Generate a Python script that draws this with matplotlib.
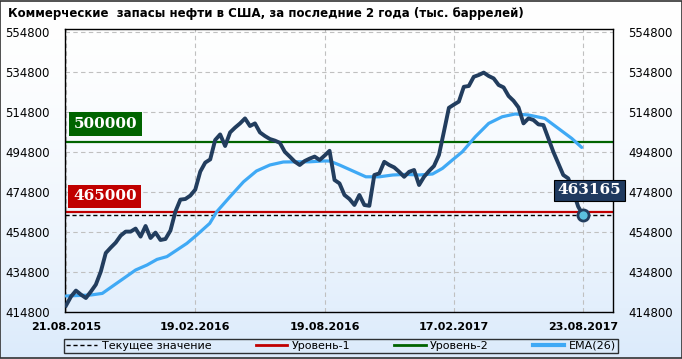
import numpy as np
import matplotlib
matplotlib.use('Agg')
import matplotlib.pyplot as plt
from matplotlib.patches import Rectangle

# weekly commercial crude stocks, thousand barrels
stocks = [418000, 422500, 425500, 423500, 421800, 425000, 428500, 435000, 444300, 447000,
          449500, 453000, 455000, 455000, 456500, 452500, 457800, 451800, 454500, 450800,
          451300, 455500, 465000, 471000, 471300, 473000, 476000, 485000, 489500, 491100,
          500800, 503600, 497800, 504600, 507000, 509100, 511600, 507800, 509100, 504600,
          502800, 501300, 500500, 499400, 494900, 492500, 490000, 488300, 490300, 491500,
          492500, 490800, 493000, 495400, 480800, 479100, 473300, 471300, 468300, 473300,
          468300, 467900, 483300, 484100, 489900, 488300, 487100, 484900, 482400, 484900,
          485800, 478300, 482400, 485300, 487800, 493300, 505000, 516900, 518500, 520000,
          527400, 527800, 532400, 533300, 534500, 532800, 531600, 528300, 527100, 522800,
          520400, 517100, 509100, 511600, 510800, 508600, 508300, 501600, 494900, 489100,
          483300, 481600, 475000, 467500, 463165]

ema_x = [0, 5, 7.3, 9.7, 11.6, 14, 16.3, 18.3, 20.3, 22.3, 24.3, 26.3, 28.9, 30.3, 33,
         35.7, 38.3, 41, 43.7, 46.3, 49, 51.7, 53, 55, 57.7, 60.3, 63, 65.7, 68.3, 71,
         73.7, 75.7, 77.7, 79.7, 82.3, 85, 87.7, 90.3, 93, 96.3, 99, 101.7, 103.7]
ema_y = [422800, 423300, 424100, 428300, 431600, 435800, 438300, 441100, 442500, 445800,
         449100, 453300, 459100, 464900, 472500, 479900, 485300, 488300, 489800, 489900,
         489900, 490300, 490300, 488300, 485300, 482400, 482400, 483300, 483600, 483300,
         483800, 486600, 490800, 494900, 502400, 509100, 512400, 513800, 513300, 511600,
         506600, 501600, 497100]

level1 = 465000
level2 = 500000
current = 463165

date_pos = [0, 26, 52, 78, 104]
date_labels = ['21.08.2015', '19.02.2016', '19.08.2016', '17.02.2017', '23.08.2017']
yticks = [414800, 434800, 454800, 474800, 494800, 514800, 534800, 554800]

navy = '#223d5e'
ema_col = '#3fa9f5'
red = '#c00000'
green = '#006400'

fig = plt.figure(figsize=(6.82, 3.59), dpi=100)

# gradient background
bg = fig.add_axes([0, 0, 1, 1])
grad = np.linspace(0, 1, 256).reshape(-1, 1)
top = np.array([1.0, 1.0, 1.0])
bot = np.array([0.86, 0.92, 0.985])
img = top + (bot - top) * grad[:, :, None] ** 1.6
bg.imshow(img, aspect='auto', extent=[0, 1, 0, 1])
bg.set_axis_off()
fig.patches.append(Rectangle((0.0007, 0.0014), 0.9986, 0.997, transform=fig.transFigure,
                             fill=False, edgecolor='#333333', lw=1.2))

ax = fig.add_axes([65 / 682, 1 - 312 / 359, 548 / 682, 283 / 359])
ax.set_facecolor('none')
x = np.arange(len(stocks))

ax.axhline(current, color='black', ls=(0, (3, 2)), lw=1.0, zorder=2)
ax.axhline(level1, color=red, lw=1.6, zorder=2)
ax.axhline(level2, color=green, lw=1.6, zorder=2)
ax.plot(ema_x, ema_y, color=ema_col, lw=2.3, zorder=3, solid_capstyle='round')
ax.plot(x, stocks, color=navy, lw=2.8, zorder=4, solid_joinstyle='round')
ax.plot(x[-1], stocks[-1], 'o', ms=8, mfc='#5bc0de', mec=navy, mew=2, zorder=5)

ax.set_xlim(-0.2, 110)
ax.set_ylim(414800, 556300)
ax.set_xticks(date_pos)
ax.set_xticklabels(date_labels, fontsize=8, fontweight='bold', family=['DejaVu Sans Condensed', 'DejaVu Sans'])
ax.set_yticks(yticks)
ax.set_yticklabels([str(v) for v in yticks], fontsize=8.5)
ax.tick_params(axis='both', length=0, pad=7)
ax.tick_params(axis='y', labelright=True, pad=11)
ax.grid(True, color='#c0c0c0', ls=(0, (4, 3)), lw=0.8)
for s in ax.spines.values():
    s.set_color('black')
    s.set_linewidth(1.0)

box = dict(boxstyle='square,pad=0.3', lw=0)
ax.text(1.6, 508800, '500000', color='white', fontsize=11, fontweight='bold',
        family='DejaVu Serif', va='center', ha='left',
        bbox=dict(box, facecolor=green), zorder=6)
ax.text(1.4, 472550, '465000', color='white', fontsize=11, fontweight='bold',
        family='DejaVu Serif', va='center', ha='left',
        bbox=dict(box, facecolor=red), zorder=6)
ax.text(98.9, 475550, '463165', color='white', fontsize=11, fontweight='bold',
        family='DejaVu Serif', va='center', ha='left', clip_on=False,
        bbox=dict(boxstyle='square,pad=0.25', facecolor='#1f3a5f', edgecolor='black', lw=0.8),
        zorder=6)

fig.text(8 / 682, 1 - 13 / 359, 'Коммерческие  запасы нефти в США, за последние 2 года (тыс. баррелей)',
         fontsize=8.5, fontweight='bold', family=['DejaVu Sans Condensed', 'DejaVu Sans'],
         va='center', ha='left')

handles = [
    plt.Line2D([], [], color='black', ls=(0, (3, 2)), lw=1.0),
    plt.Line2D([], [], color=red, lw=2),
    plt.Line2D([], [], color=green, lw=2),
    plt.Line2D([], [], color=ema_col, lw=3),
]
labels = ['Текущее значение', 'Уровень-1', 'Уровень-2', 'EMA(26)']
leg = fig.legend(handles, labels, ncol=4, loc='center',
                 bbox_to_anchor=(341 / 682, 1 - 346 / 359), fontsize=8,
                 frameon=True, fancybox=False, edgecolor='black',
                 handlelength=2.8, handletextpad=0.4, columnspacing=4.0,
                 borderpad=0.15, borderaxespad=0)
leg.get_frame().set_facecolor('none')
leg.get_frame().set_linewidth(1.0)

fig.savefig('out.png', dpi=100)
